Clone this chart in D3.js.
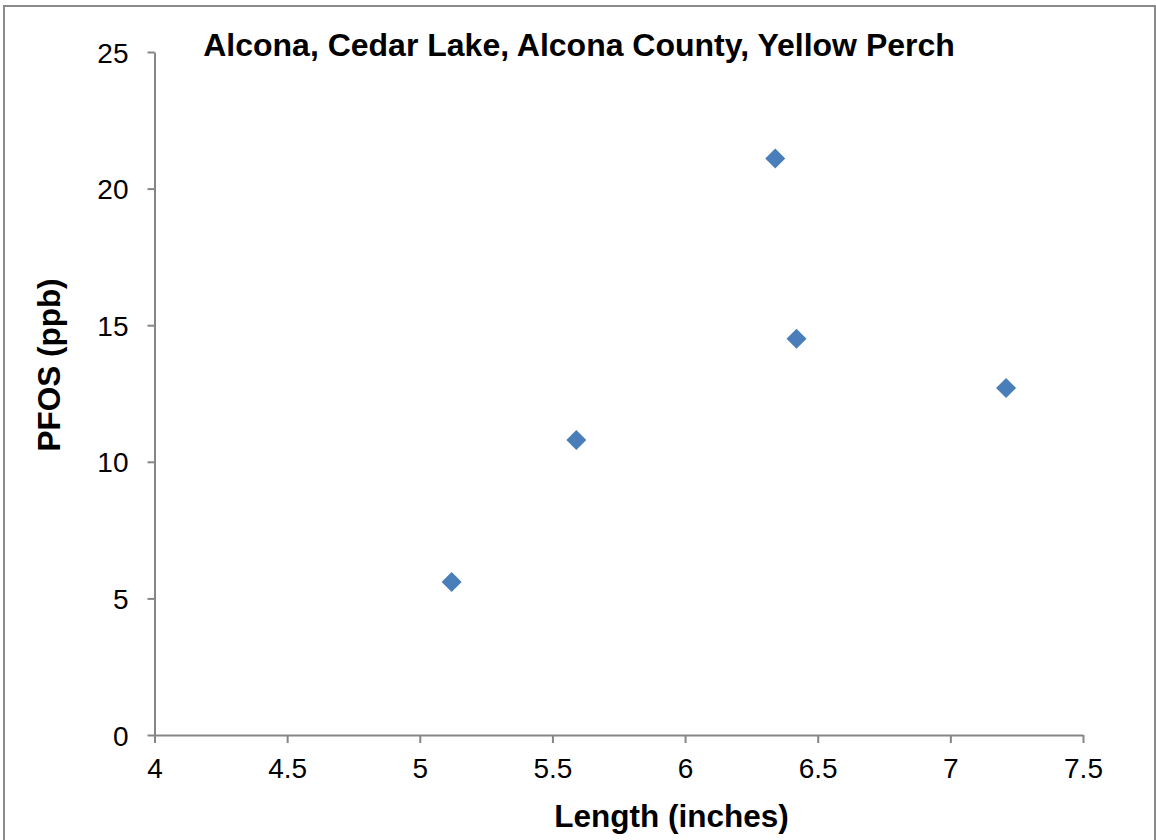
<!DOCTYPE html>
<html>
<head>
<meta charset="utf-8">
<script src="https://cdn.jsdelivr.net/npm/d3@7"></script>
<style>
  html, body { margin: 0; padding: 0; background: #fff; }
  svg { display: block; font-family: "Liberation Sans", Arial, sans-serif; }
</style>
</head>
<body>
<svg id="chart" width="1156" height="840"></svg>
<script>
const chartTitle = "Alcona, Cedar Lake, Alcona County, Yellow Perch";
const xTitle = "Length (inches)";
const yTitle = "PFOS (ppb)";
const lengths = [5.12, 5.59, 6.34, 6.42, 7.21];
const pfos = [5.6, 10.8, 21.1, 14.5, 12.7];
const xTicks = [4, 4.5, 5, 5.5, 6, 6.5, 7, 7.5];
const yTicks = [0, 5, 10, 15, 20, 25];

(function () {
const svg = d3.select("#chart");
const W = 1156, H = 840;
const mLeft = 154.5, mRight = 1083, mTop = 52, mBottom = 735;
const axisColor = "#868686";

// outer border
svg.append("rect")
  .attr("x", 4).attr("y", 6).attr("width", W - 5).attr("height", H)
  .attr("fill", "#fff").attr("stroke", "#8a8a8a").attr("stroke-width", 2);

const x = d3.scaleLinear().domain([4, 7.5]).range([mLeft, mRight]);
const y = d3.scaleLinear().domain([0, 25]).range([mBottom, mTop]);

// x axis
const xAxis = svg.append("g").attr("transform", `translate(0,${mBottom})`)
  .call(d3.axisBottom(x).tickValues(xTicks).tickSize(8).tickSizeOuter(0)
    .tickFormat(d => String(d)));
xAxis.select(".domain").attr("stroke", axisColor).attr("stroke-width", 2);
xAxis.selectAll(".tick line").attr("stroke", axisColor).attr("stroke-width", 2);
xAxis.selectAll(".tick text")
  .attr("y", 43).attr("dy", null)
  .attr("font-size", 28).attr("fill", "#000")
  .attr("font-family", "Liberation Sans, Arial, sans-serif");

// y axis
const yAxis = svg.append("g").attr("transform", `translate(${mLeft},0)`)
  .call(d3.axisLeft(y).tickValues(yTicks).tickSize(7).tickSizeOuter(0)
    .tickFormat(d => String(d)));
yAxis.select(".domain").attr("stroke", axisColor).attr("stroke-width", 2);
yAxis.selectAll(".tick line").attr("stroke", axisColor).attr("stroke-width", 2);
yAxis.selectAll(".tick text")
  .attr("x", -26).attr("dy", "0.36em")
  .attr("font-size", 28).attr("fill", "#000")
  .attr("font-family", "Liberation Sans, Arial, sans-serif");

// points
const diamond = d3.symbol().type(d3.symbolSquare).size(200);
svg.append("g").selectAll("path")
  .data(lengths.map((v, i) => ({x: v, y: pfos[i]})))
  .join("path")
  .attr("d", diamond)
  .attr("transform", d => `translate(${x(d.x)},${y(d.y)}) rotate(45)`)
  .attr("fill", "#4a7ebb");

// title
svg.append("text")
  .attr("x", 579).attr("y", 56)
  .attr("text-anchor", "middle")
  .attr("font-size", 32).attr("font-weight", "bold").attr("fill", "#000")
  .text(chartTitle);

// x title
svg.append("text")
  .attr("x", 671.5).attr("y", 827)
  .attr("text-anchor", "middle")
  .attr("font-size", 31.5).attr("font-weight", "bold").attr("fill", "#000")
  .text(xTitle);

// y title
svg.append("text")
  .attr("transform", "translate(60,365) rotate(-90)")
  .attr("text-anchor", "middle")
  .attr("font-size", 31.5).attr("font-weight", "bold").attr("fill", "#000")
  .text(yTitle);
})();
</script>
</body>
</html>
